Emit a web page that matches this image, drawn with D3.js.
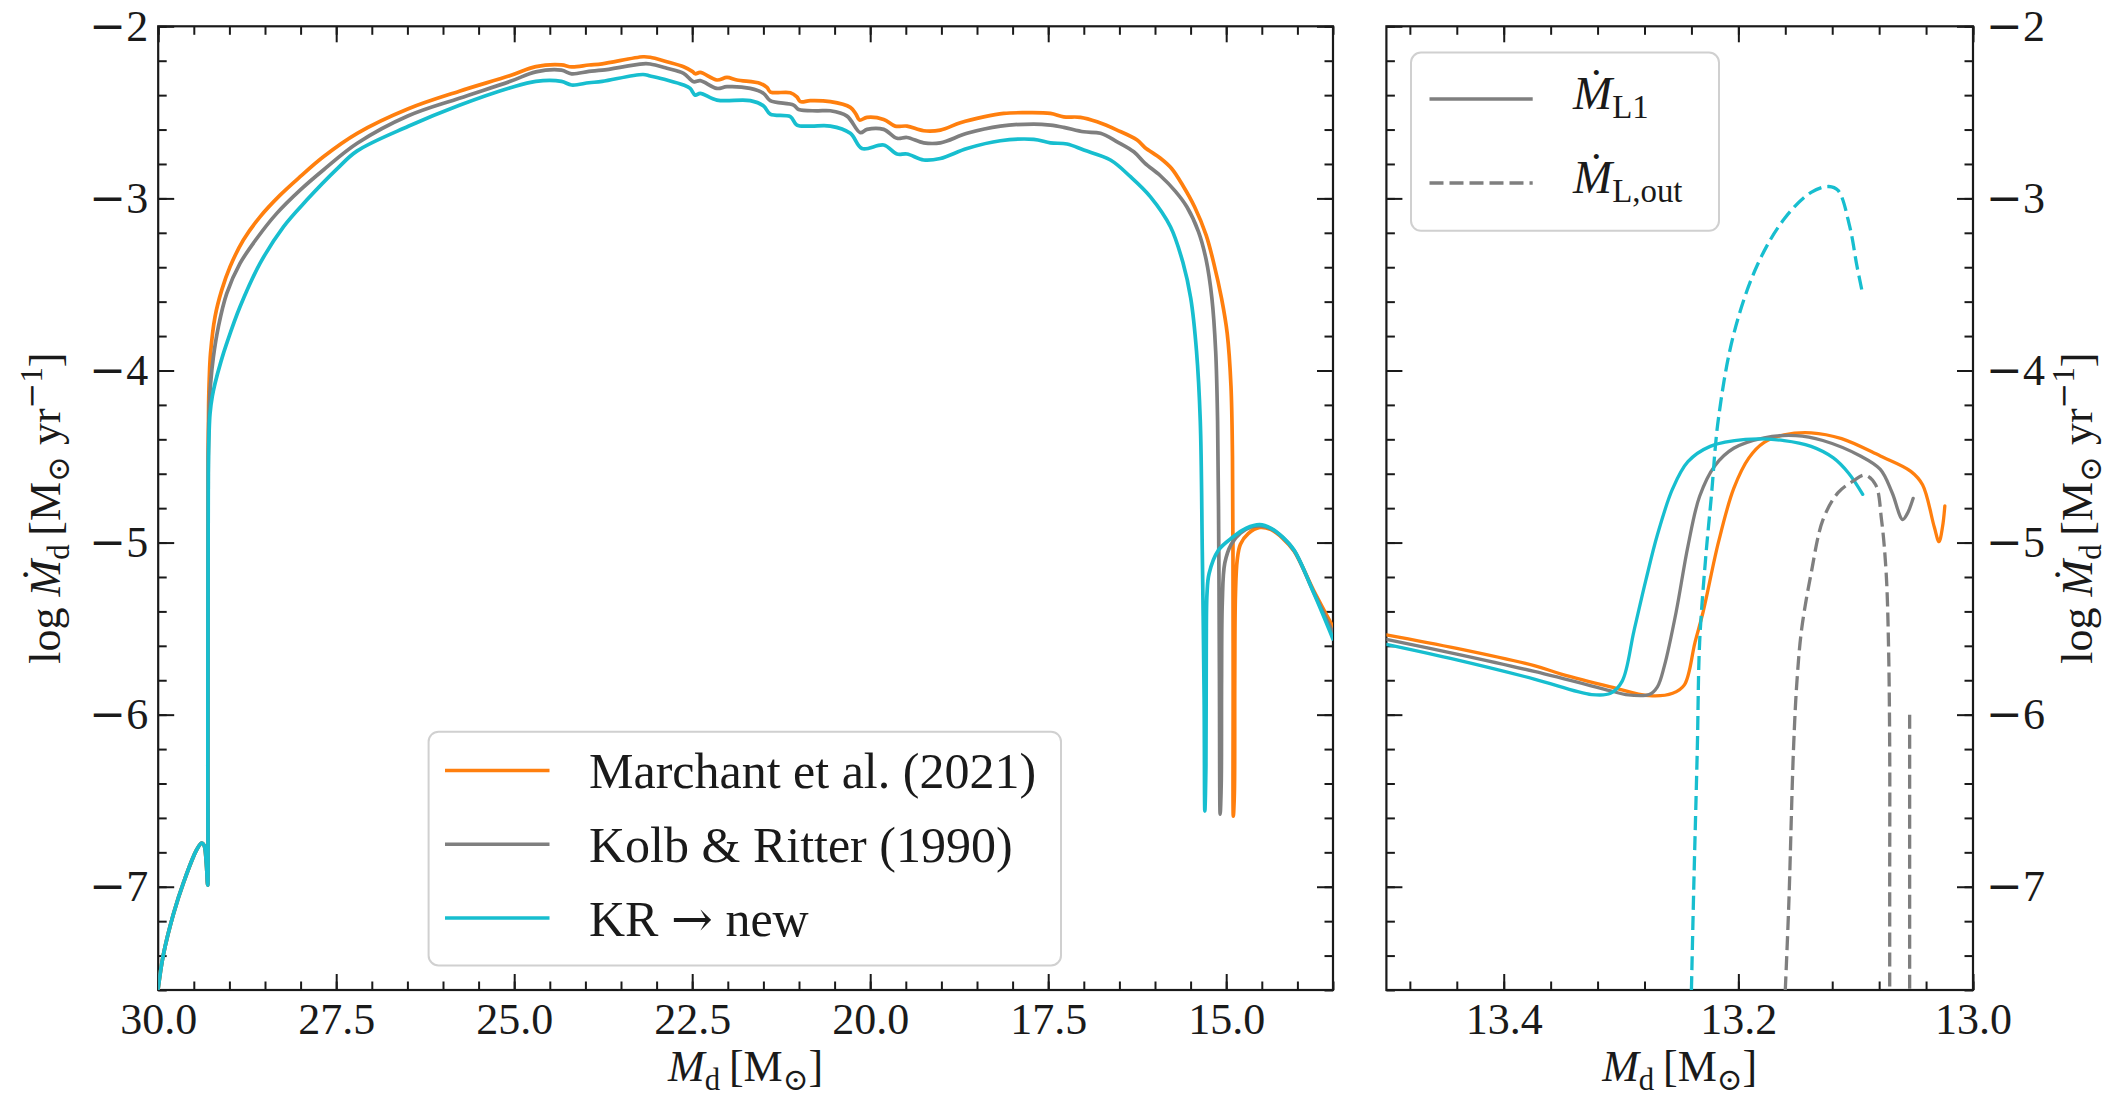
<!DOCTYPE html>
<html>
<head>
<meta charset="utf-8">
<script src="https://cdn.jsdelivr.net/npm/d3@7"></script>
<style>
  body { margin: 0; background: #fff; }
  svg text { white-space: pre; }
</style>
</head>
<body>
<svg id="chart"></svg>
<script>
"use strict";

const width = 2112;
const height = 1103;
const plotTop = 26.3;
const plotBottom = 990;
const ink = "#1a1a1a";
const serif = "'Liberation Serif', 'DejaVu Serif', serif";
const symbolFont = "'DejaVu Serif', serif";
const tickFont = 44;
const labelFont = 44;
const legendFont = 50;

const colors = { marchant: "#ff7f0e", kolb: "#7f7f7f", kr: "#17becf" };

// ticks
const leftMajorX = [30, 27.5, 25, 22.5, 20, 17.5, 15];
const rightMajorX = [13.4, 13.2, 13.0];
const majorY = [-7, -6, -5, -4, -3, -2];

// legend
const legendLabels = [
    [{ t: "Marchant et al. (2021)" }],
    [{ t: "Kolb & Ritter (1990)" }],
    [{ t: "KR " }, { t: "\u2192", f: symbolFont }, { t: " new" }]
];
const legendKeys = ["marchant", "kolb", "kr"];

// left panel: [M_d, log Mdot]
const marchantLeft = [
  [30.00, -7.59], [29.93, -7.40], [29.785, -7.157], [29.642, -6.973], [29.463, -6.788],
  [29.39, -6.747], [29.355, -6.76], [29.325, -6.86], [29.305, -6.99], [29.303, -6.3],
  [29.300, -5.2], [29.298, -4.5], [29.292, -4.2], [29.283, -4.05], [29.265, -3.90],
  [29.202, -3.688], [29.108, -3.533], [28.991, -3.397], [28.804, -3.242], [28.57, -3.107],
  [28.288, -2.981], [28.007, -2.874], [27.68, -2.758], [27.205, -2.622], [26.487, -2.479],
  [25.77, -2.377], [25.054, -2.286], [24.696, -2.234], [24.337, -2.224], [24.194, -2.236],
  [23.95, -2.225], [23.764, -2.218], [23.19, -2.177], [23.09, -2.180], [22.856, -2.206],
  [22.621, -2.235], [22.50, -2.262], [22.458, -2.276], [22.387, -2.268], [22.153, -2.312],
  [22.012, -2.297], [21.872, -2.312], [21.544, -2.332], [21.45, -2.355], [21.40, -2.382],
  [21.122, -2.386], [21.03, -2.410], [20.98, -2.438], [20.841, -2.432], [20.560, -2.438],
  [20.279, -2.471], [20.20, -2.51], [20.150, -2.545], [20.045, -2.529], [19.811, -2.541],
  [19.65, -2.580], [19.483, -2.580], [19.249, -2.607], [19.015, -2.603], [18.734, -2.560],
  [18.406, -2.526], [18.125, -2.506], [17.844, -2.502], [17.469, -2.506], [17.282, -2.526],
  [17.047, -2.529], [16.813, -2.555], [16.532, -2.603], [16.251, -2.661], [16.143, -2.704],
  [15.928, -2.765], [15.767, -2.826], [15.605, -2.928], [15.443, -3.05], [15.282, -3.213],
  [15.175, -3.376], [15.066, -3.58], [14.986, -3.784], [14.933, -4.09], [14.912, -4.498],
  [14.905, -5.045], [14.902, -5.8], [14.900, -6.59], [14.885, -6.45], [14.880, -5.8],
  [14.870, -5.3], [14.845, -5.1], [14.80, -5.01], [14.691, -4.948], [14.53, -4.912],
  [14.369, -4.925], [14.207, -4.975], [14.045, -5.05], [13.77, -5.28], [13.50, -5.49]
];

const kolbLeft = [
  [30.00, -7.59], [29.93, -7.40], [29.785, -7.157], [29.642, -6.973], [29.463, -6.788],
  [29.39, -6.747], [29.355, -6.76], [29.325, -6.86], [29.305, -6.99], [29.303, -6.3],
  [29.300, -5.2], [29.297, -4.5], [29.285, -4.24], [29.265, -4.08], [29.225, -3.921],
  [29.155, -3.746], [29.038, -3.553], [28.851, -3.378], [28.616, -3.233], [28.335, -3.087],
  [28.007, -2.952], [27.68, -2.835], [27.205, -2.68], [26.487, -2.52], [25.77, -2.418],
  [25.054, -2.32], [24.696, -2.265], [24.337, -2.255], [24.194, -2.276], [23.95, -2.262],
  [23.764, -2.255], [23.19, -2.218], [23.09, -2.219], [22.856, -2.244], [22.621, -2.274],
  [22.481, -2.322], [22.387, -2.316], [22.153, -2.361], [22.012, -2.351], [21.685, -2.361],
  [21.497, -2.390], [21.404, -2.432], [21.076, -2.458], [21.005, -2.483], [20.748, -2.491],
  [20.56, -2.491], [20.326, -2.522], [20.139, -2.618], [20.045, -2.599], [19.811, -2.599],
  [19.624, -2.651], [19.483, -2.646], [19.249, -2.677], [19.015, -2.677], [18.64, -2.622],
  [18.172, -2.580], [17.703, -2.568], [17.469, -2.574], [17.282, -2.587], [17.0, -2.613],
  [16.766, -2.622], [16.532, -2.671], [16.298, -2.729], [16.143, -2.795], [15.928, -2.867],
  [15.713, -2.959], [15.551, -3.05], [15.39, -3.193], [15.282, -3.356], [15.201, -3.58],
  [15.148, -3.887], [15.121, -4.294], [15.104, -5.045], [15.095, -5.8], [15.085, -6.578],
  [15.07, -6.4], [15.065, -5.8], [15.055, -5.35], [15.02, -5.12], [14.93, -5.01],
  [14.80, -4.945], [14.65, -4.91], [14.53, -4.903], [14.369, -4.92], [14.207, -4.97],
  [14.045, -5.047], [13.77, -5.29], [13.50, -5.525]
];

const krLeft = [
  [30.00, -7.59], [29.93, -7.40], [29.785, -7.157], [29.642, -6.973], [29.463, -6.788],
  [29.39, -6.747], [29.355, -6.76], [29.325, -6.86], [29.305, -6.99], [29.303, -6.3],
  [29.300, -5.2], [29.296, -4.6], [29.285, -4.36], [29.272, -4.25], [29.240, -4.15],
  [29.202, -4.076], [29.12, -3.95], [29.038, -3.843], [28.851, -3.63], [28.57, -3.378],
  [28.241, -3.165], [27.914, -3.01], [27.492, -2.83], [27.205, -2.724], [26.487, -2.581],
  [25.77, -2.459], [25.054, -2.357], [24.696, -2.32], [24.337, -2.32], [24.194, -2.341],
  [23.95, -2.328], [23.764, -2.32], [23.19, -2.28], [23.09, -2.289], [22.856, -2.312],
  [22.621, -2.341], [22.528, -2.361], [22.458, -2.4], [22.387, -2.390], [22.153, -2.429],
  [21.685, -2.432], [21.497, -2.463], [21.404, -2.510], [21.122, -2.525], [21.029, -2.574],
  [20.841, -2.580], [20.56, -2.580], [20.279, -2.622], [20.115, -2.710], [19.811, -2.690],
  [19.624, -2.742], [19.483, -2.742], [19.249, -2.777], [19.015, -2.768], [18.64, -2.710],
  [18.172, -2.665], [17.703, -2.657], [17.469, -2.677], [17.235, -2.684], [17.0, -2.719],
  [16.626, -2.777], [16.345, -2.874], [16.064, -2.991], [15.783, -3.165], [15.605, -3.377],
  [15.498, -3.58], [15.417, -3.887], [15.364, -4.294], [15.336, -5.045], [15.31, -5.9],
  [15.30, -6.56], [15.285, -6.3], [15.28, -5.6], [15.27, -5.3], [15.24, -5.18],
  [15.11, -5.045], [14.905, -4.968], [14.718, -4.917], [14.53, -4.896], [14.369, -4.917],
  [14.207, -4.968], [14.045, -5.045], [13.77, -5.293], [13.50, -5.56]
];

// right panel: L1 rates (solid)
const marchantRight = [
  [13.50, -5.536], [13.440, -5.615], [13.374, -5.715], [13.351, -5.764], [13.309, -5.838],
  [13.276, -5.890], [13.256, -5.876], [13.246, -5.827], [13.237, -5.581], [13.230, -5.402],
  [13.217, -4.999], [13.204, -4.687], [13.191, -4.508], [13.178, -4.418], [13.161, -4.374],
  [13.138, -4.362], [13.112, -4.396], [13.079, -4.497], [13.053, -4.586], [13.043, -4.664],
  [13.033, -4.910], [13.029, -4.995], [13.026, -4.910], [13.024, -4.787]
];

const kolbRight = [
  [13.50, -5.563], [13.440, -5.648], [13.374, -5.749], [13.309, -5.861], [13.296, -5.883],
  [13.276, -5.883], [13.269, -5.838], [13.263, -5.715], [13.253, -5.402], [13.243, -5.022],
  [13.233, -4.731], [13.220, -4.553], [13.204, -4.452], [13.178, -4.391], [13.151, -4.378],
  [13.128, -4.407], [13.096, -4.497], [13.079, -4.575], [13.069, -4.709], [13.060, -4.866],
  [13.056, -4.832], [13.051, -4.743]
];

const krRight = [
  [13.50, -5.592], [13.440, -5.682], [13.374, -5.793], [13.325, -5.883], [13.309, -5.876],
  [13.299, -5.805], [13.289, -5.514], [13.279, -5.223], [13.269, -4.955], [13.256, -4.687],
  [13.243, -4.530], [13.224, -4.441], [13.194, -4.400], [13.161, -4.407], [13.138, -4.441],
  [13.119, -4.508], [13.106, -4.597], [13.094, -4.720]
];

// right panel: outer Lagrangian rates (dashed)
const krOuter = [
  [13.240, -7.6], [13.238, -7.0], [13.235, -6.2], [13.233, -5.58], [13.228, -5.1],
  [13.223, -4.73], [13.217, -4.28], [13.204, -3.79], [13.184, -3.39], [13.161, -3.12],
  [13.138, -2.965], [13.123, -2.931], [13.115, -2.954], [13.105, -3.166], [13.099, -3.39],
  [13.094, -3.557]
];

const kolbOuter = [
  [13.160, -7.6], [13.157, -7.1], [13.153, -6.2], [13.150, -5.8], [13.146, -5.5],
  [13.138, -5.18], [13.128, -4.87], [13.115, -4.71], [13.102, -4.642], [13.092, -4.608],
  [13.083, -4.664], [13.078, -4.866], [13.074, -5.178], [13.072, -5.6], [13.071, -6.2],
  [13.071, -7.0], [13.071, -7.6]
];

const kolbOuterTail = [[13.054, -6.0], [13.054, -7.6]];


const svg = d3.select("#chart")
    .attr("width", width)
    .attr("height", height)
    .attr("font-family", serif);

svg.append("rect").attr("width", width).attr("height", height).attr("fill", "#fff");

const y = d3.scaleLinear([-7.6, -2], [plotBottom, plotTop]);
const xLeft = d3.scaleLinear([30, 13.5], [158.2, 1333]);
const xRight = d3.scaleLinear([13.5, 13.0], [1386.4, 1973]);

const minorY = d3.range(-7.6, -1.99, 0.2);
const leftMinorX = d3.range(30, 13.49, -0.5);
const rightMinorX = d3.range(13.48, 12.99, -0.04);


// long TeX-like minus in tick labels
function wideMinus(sel) {
    sel.selectAll(".tick text").each(function () {
        const s = this.textContent;
        if (s.startsWith("\u2212") || s.startsWith("-")) {
            const t = d3.select(this).text(null);
            t.append("tspan").attr("font-family", symbolFont).text("\u2212");
            t.append("tspan").text(s.slice(1));
        }
    });
}


function drawAxes(x, majorX, minorX, yLabelsRight) {
    const [L, R] = x.range();
    const g = svg.append("g")
        .attr("color", ink)
        .attr("font-size", tickFont);

    const add = (gen, tr, vals, len, fmt, pad) => {
        const a = g.append("g")
            .attr("transform", tr)
            .call(gen.tickValues(vals)
                .tickSizeInner(-len)
                .tickSizeOuter(0)
                .tickPadding(pad)
                .tickFormat(fmt || (() => "")));
        a.attr("font-family", null).attr("font-size", null);
        a.select(".domain").remove();
        a.selectAll(".tick line").attr("stroke-width", 2);
        wideMinus(a);
    };

    const none = () => "";
    // minor ticks
    add(d3.axisBottom(x), `translate(0,${plotBottom})`, minorX, 8.5, none, 0);
    add(d3.axisTop(x), `translate(0,${plotTop})`, minorX, 8.5, none, 0);
    add(d3.axisLeft(y), `translate(${L},0)`, minorY, 8.5, none, 0);
    add(d3.axisRight(y), `translate(${R},0)`, minorY, 8.5, none, 0);
    // major ticks
    add(d3.axisBottom(x), `translate(0,${plotBottom})`, majorX, 16, d3.format(".1f"), 13);
    add(d3.axisTop(x), `translate(0,${plotTop})`, majorX, 16, none, 0);
    add(d3.axisLeft(y), `translate(${L},0)`, majorY, 16, yLabelsRight ? none : d3.format("d"), 10);
    add(d3.axisRight(y), `translate(${R},0)`, majorY, 16, yLabelsRight ? d3.format("d") : none, 13);

    svg.append("rect")
        .attr("x", L).attr("y", plotTop)
        .attr("width", R - L).attr("height", plotBottom - plotTop)
        .attr("fill", "none")
        .attr("stroke", ink)
        .attr("stroke-width", 2.2);
}


function clipFor(id, x) {
    const [L, R] = x.range();
    svg.append("clipPath").attr("id", id)
        .append("rect")
        .attr("x", L).attr("y", plotTop)
        .attr("width", R - L).attr("height", plotBottom - plotTop);
    return svg.append("g").attr("clip-path", `url(#${id})`);
}


function drawSeries(g, x, data, color, dashed, lw) {
    const line = d3.line()
        .x(d => x(d[0]))
        .y(d => y(d[1]))
        .curve(d3.curveCatmullRom.alpha(0.5));
    g.append("path")
        .datum(data)
        .attr("d", line)
        .attr("fill", "none")
        .attr("stroke", color)
        .attr("stroke-width", lw)
        .attr("stroke-linejoin", "round")
        .attr("stroke-linecap", dashed ? "butt" : "round")
        .attr("stroke-dasharray", dashed ? "14,6" : null);
}


// math text built from tspans: {t, it, sub, sup, f}
function mathText(sel, parts, fs) {
    let off = 0;
    parts.forEach(p => {
        const shift = p.sub ? 0.2 * fs : p.sup ? -0.4 * fs : 0;
        const ts = sel.append("tspan").text(p.t);
        if (shift !== off) ts.attr("dy", shift - off);
        off = shift;
        if (p.sub || p.sup) ts.attr("font-size", 0.7 * fs);
        if (p.it) ts.attr("font-style", "italic");
        if (p.f) ts.attr("font-family", p.f);
    });
    return sel;
}

const xLabelParts = [
    { t: "M", it: true }, { t: "d", sub: true }, { t: "\u2009[M" }, { t: "\u2299", sub: true }, { t: "]" }
];
const yLabelParts = [
    { t: "log " }, { t: "\u1E40", it: true }, { t: "d", sub: true }, { t: "\u2009[M" },
    { t: "\u2299", sub: true }, { t: " yr" }, { t: "\u2212", sup: true, f: symbolFont },
    { t: "1", sup: true }, { t: "]" }
];


// left panel
drawAxes(xLeft, leftMajorX, leftMinorX, false);
const gL = clipFor("clipL", xLeft);
drawSeries(gL, xLeft, marchantLeft, colors.marchant, false, 3.7);
drawSeries(gL, xLeft, kolbLeft, colors.kolb, false, 3.7);
drawSeries(gL, xLeft, krLeft, colors.kr, false, 3.7);

// right panel
drawAxes(xRight, rightMajorX, rightMinorX, true);
const gR = clipFor("clipR", xRight);
drawSeries(gR, xRight, marchantRight, colors.marchant, false, 3.3);
drawSeries(gR, xRight, kolbRight, colors.kolb, false, 3.3);
drawSeries(gR, xRight, krRight, colors.kr, false, 3.3);
drawSeries(gR, xRight, krOuter, colors.kr, true, 3.3);
drawSeries(gR, xRight, kolbOuter, colors.kolb, true, 3.3);
drawSeries(gR, xRight, kolbOuterTail, colors.kolb, true, 3.3);


// axis labels
[xLeft, xRight].forEach(x => {
    const [L, R] = x.range();
    mathText(svg.append("text")
        .attr("x", (L + R) / 2)
        .attr("y", 1081)
        .attr("text-anchor", "middle")
        .attr("font-size", labelFont)
        .attr("fill", ink), xLabelParts, labelFont);
});

[60, 2092].forEach(bx => {
    mathText(svg.append("text")
        .attr("transform", `translate(${bx},${(plotTop + plotBottom) / 2}) rotate(-90)`)
        .attr("text-anchor", "middle")
        .attr("font-size", labelFont)
        .attr("fill", ink), yLabelParts, labelFont);
});


// legend, left panel
const legL = svg.append("g");
legL.append("rect")
    .attr("x", 428.6).attr("y", 731.7)
    .attr("width", 632.4).attr("height", 233.8)
    .attr("rx", 10)
    .attr("fill", "#fff").attr("fill-opacity", 0.8)
    .attr("stroke", "#d0d0d0").attr("stroke-width", 2);

const rowY = d3.scalePoint(legendKeys, [770.5, 918]);
legendKeys.forEach((k, i) => {
    legL.append("line")
        .attr("x1", 445).attr("x2", 549.5)
        .attr("y1", rowY(k)).attr("y2", rowY(k))
        .attr("stroke", colors[k]).attr("stroke-width", 3.7);
    mathText(legL.append("text")
        .attr("x", 589).attr("y", rowY(k) + 17.5)
        .attr("font-size", legendFont)
        .attr("fill", ink), legendLabels[i], legendFont);
});

// legend, right panel
const legR = svg.append("g");
legR.append("rect")
    .attr("x", 1411).attr("y", 52.6)
    .attr("width", 308).attr("height", 178.2)
    .attr("rx", 10)
    .attr("fill", "#fff").attr("fill-opacity", 0.8)
    .attr("stroke", "#d0d0d0").attr("stroke-width", 2);

const styleRows = [
    { y: 99, dashed: false, parts: [{ t: "\u1E40", it: true }, { t: "L1", sub: true }] },
    { y: 183, dashed: true, parts: [{ t: "\u1E40", it: true }, { t: "L,out", sub: true }] }
];
styleRows.forEach(r => {
    legR.append("line")
        .attr("x1", 1429.5).attr("x2", 1532.7)
        .attr("y1", r.y).attr("y2", r.y)
        .attr("stroke", colors.kolb).attr("stroke-width", 3.3)
        .attr("stroke-dasharray", r.dashed ? "14,6" : null);
    mathText(legR.append("text")
        .attr("x", 1573).attr("y", r.y + 10)
        .attr("font-size", 47)
        .attr("fill", ink), r.parts, 47);
});
</script>
</body>
</html>
